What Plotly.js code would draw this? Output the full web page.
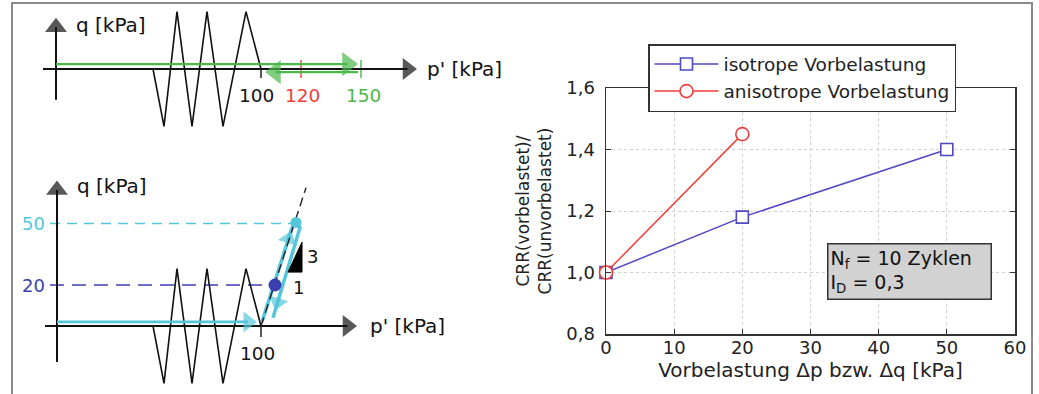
<!DOCTYPE html>
<html><head><meta charset="utf-8">
<script src="https://cdn.plot.ly/plotly-3.0.1.min.js"></script>
<style>html,body{margin:0;padding:0;background:#fff}#chart{width:1039px;height:394px}</style>
</head><body><div id="chart"></div>
<script>
// ---- main chart data ----
const preloadIso = [0, 20, 50];
const crrIso = [1.0, 1.18, 1.40];
const preloadAniso = [0, 20];
const crrAniso = [1.0, 1.45];
const seriesNames = ['isotrope Vorbelastung', 'anisotrope Vorbelastung'];
const xTickVals = [0, 10, 20, 30, 40, 50, 60];
const yTickVals = [0.8, 1.0, 1.2, 1.4, 1.6];
const infoText = 'N<sub>f</sub> = 10 Zyklen<br>I<sub>D</sub> = 0,3';

// ---- schematic data (p' [kPa], q [kPa]) ----
const cycP = [46, 51.5, 58, 65.5, 73, 81, 92.5, 100];
const cycQ = [0, -28, 28, -28, 28, -28, 28, 0];
const topMarks = [100, 120, 150];
const topMarkLabels = ['100', '120', '150'];
const levelQ = [50, 20];
const levelLabels = ['50', '20'];
const levelEndP = [120.5, 111];
const slopeP = [100, 122.5];
const slopeQ = [0, 67.5];
const loopP = [100.5, 116.5, 119.5, 106];
const loopQ = [2, 51, 48, 4];
const pointP = [107];
const pointQ = [20];
const triP = [113.5, 120.5, 120.5, 113.5];
const triQ = [26.3, 26.3, 40.9, 26.3];
// arrows: [tail p, tail q, tip p, tip q]
const topAxisQ = [-2.5, -15, -2.5, 25];
const topAxisP = [-9, 0, 178, 0];
const greenOut = [-2.5, 2.4, 148.5, 2.4];
const greenBack = [148.5, -1.5, 102, -1.5];
const botAxisQ = [-2, -17.6, -2, 71];
const botAxisP = [-8, 0, 148, 0];
const cyanIn = [-2, 2, 98, 2];
const cyanUp = [112.0, 37, 115.0, 46.5];
const cyanDown = [110.0, 17, 107.0, 7.5];

const W = 1039, H = 394;
const F = 'DejaVu Sans, sans-serif';
const BLUE = '#5148c4', RED = '#ef3f3a', GREEN = '#4cb848', CYAN = '#55c6da', DBLUE = '#3b3fb0';
const px = v => v / W, py = v => 1 - v / H;
const SX = 2, SY = 2.05; // px per kPa in the schematics

function line(xa, ya, x, y, color, width, dash) {
  return {x: x, y: y, xaxis: xa, yaxis: ya, mode: 'lines', line: {color: color, width: width, dash: dash || 'solid'},
          showlegend: false, hoverinfo: 'skip'};
}
function arrowTrace(xa, ya, a, color, width, size) {
  const dx = (a[2] - a[0]) * SX, dy = (a[3] - a[1]) * SY, L = Math.hypot(dx, dy);
  const back = size / 2;
  const cx = a[2] - dx / L * back / SX, cy = a[3] - dy / L * back / SY;
  return {x: [a[0], cx], y: [a[1], cy], xaxis: xa, yaxis: ya, mode: 'lines+markers',
          line: {color: color, width: width},
          marker: {symbol: 'triangle-up', size: [0, size], angleref: 'previous', color: color, line: {width: 0}},
          showlegend: false, hoverinfo: 'skip', cliponaxis: false};
}

const traces = [
  {x: preloadIso, y: crrIso, name: seriesNames[0], mode: 'lines+markers', xaxis: 'x', yaxis: 'y',
   line: {color: BLUE, width: 1.5}, marker: {symbol: 'square', size: 12, color: '#fff', line: {color: BLUE, width: 1.6}}, cliponaxis: false},
  {x: preloadAniso, y: crrAniso, name: seriesNames[1], mode: 'lines+markers', xaxis: 'x', yaxis: 'y',
   line: {color: RED, width: 1.5}, marker: {symbol: 'circle', size: 13, color: '#fff', line: {color: RED, width: 1.6}}, cliponaxis: false},
  // top schematic
  line('x2', 'y2', cycP, cycQ, '#111', 1.6),
  line('x2', 'y2', [topMarks[0], topMarks[0]], [0, -4.4], '#111', 1.4),
  line('x2', 'y2', [topMarks[1], topMarks[1]], [4.4, -4.4], RED, 1.4),
  line('x2', 'y2', [topMarks[2], topMarks[2]], [4.4, -4.4], GREEN, 1.4),
  arrowTrace('x2', 'y2', topAxisQ, '#111', 2, 19),
  arrowTrace('x2', 'y2', topAxisP, '#111', 2, 19),
  arrowTrace('x2', 'y2', greenOut, GREEN, 2.4, 21),
  arrowTrace('x2', 'y2', greenBack, GREEN, 2.4, 21),
  // bottom schematic
  line('x3', 'y3', [-5.5, levelEndP[0]], [levelQ[0], levelQ[0]], CYAN, 1.3, '10px,7px'),
  line('x3', 'y3', [-5.5, levelEndP[1]], [levelQ[1], levelQ[1]], DBLUE, 1.3, '14px,8px'),
  line('x3', 'y3', cycP, cycQ, '#111', 1.6),
  line('x3', 'y3', [topMarks[0], topMarks[0]], [0, -5.4], '#111', 1.4),
  arrowTrace('x3', 'y3', botAxisQ, '#111', 2, 19),
  arrowTrace('x3', 'y3', botAxisP, '#111', 2, 19),
  line('x3', 'y3', loopP, loopQ, CYAN, 3.5),
  arrowTrace('x3', 'y3', cyanIn, CYAN, 2.8, 18),
  arrowTrace('x3', 'y3', cyanUp, CYAN, 2.8, 17),
  arrowTrace('x3', 'y3', cyanDown, CYAN, 2.8, 17),
  line('x3', 'y3', slopeP, slopeQ, '#222', 1.4, '9px,5px'),
  {x: [loopP[1] + 1], y: [loopQ[1] - 0.5], xaxis: 'x3', yaxis: 'y3', mode: 'markers', marker: {color: CYAN, size: 11}, showlegend: false, hoverinfo: 'skip'},
  {x: pointP, y: pointQ, xaxis: 'x3', yaxis: 'y3', mode: 'markers', marker: {color: DBLUE, size: 13}, showlegend: false, hoverinfo: 'skip'},
  {x: triP, y: triQ, xaxis: 'x3', yaxis: 'y3', mode: 'lines', fill: 'toself', fillcolor: '#000', line: {color: '#000', width: 1}, showlegend: false, hoverinfo: 'skip'}
];

function label(xr, yr, x, y, text, color, size, xa, extra) {
  return Object.assign({xref: xr, yref: yr, x: x, y: y, text: text, showarrow: false, xanchor: xa || 'center', yanchor: 'middle',
          font: {family: F, size: size, color: color}}, extra || {});
}

const annotations = [
  label('x2', 'y2', 6.5, 21.5, 'q [kPa]', '#111', 20, 'left'),
  label('x2', 'y2', 182, 0, "p' [kPa]", '#111', 20, 'left'),
  label('x2', 'y2', topMarks[0], -12.7, topMarkLabels[0], '#111', 18.5, 'center', {xshift: -5}),
  label('x2', 'y2', topMarks[1], -12.7, topMarkLabels[1], RED, 18.5, 'center', {xshift: 1}),
  label('x2', 'y2', topMarks[2], -12.7, topMarkLabels[2], GREEN, 18.5, 'center', {xshift: 2}),
  label('x3', 'y3', 7, 68.3, 'q [kPa]', '#111', 20, 'left'),
  label('x3', 'y3', 153.5, 0, "p' [kPa]", '#111', 20, 'left'),
  label('x3', 'y3', topMarks[0], -13.3, topMarkLabels[0], '#111', 18.5, 'center', {xshift: -4}),
  label('x3', 'y3', -7, levelQ[0], levelLabels[0], CYAN, 18, 'right'),
  label('x3', 'y3', -7, levelQ[1], levelLabels[1], DBLUE, 18, 'right'),
  label('x3', 'y3', 125.5, 33.7, '3', '#111', 18, 'center'),
  label('x3', 'y3', 118.5, 19, '1', '#111', 18, 'center'),
  {xref: 'paper', yref: 'paper', x: px(827), y: py(243), xanchor: 'left', yanchor: 'top', text: infoText, showarrow: false,
   align: 'left', width: 158, height: 50, borderpad: 2, bgcolor: '#d2d2d2', bordercolor: '#333', borderwidth: 1.5,
   font: {family: F, size: 19, color: '#111'}}
];

const hidden = {visible: true, fixedrange: true, showgrid: false, zeroline: false, showline: false,
                showticklabels: false, ticks: ''};
const layout = {
  width: W, height: H,
  margin: {l: 0, r: 0, t: 0, b: 0},
  paper_bgcolor: '#fff', plot_bgcolor: 'rgba(0,0,0,0)',
  separators: ',.',
  showlegend: true,
  legend: {x: px(648), y: py(44), xanchor: 'left', yanchor: 'top', bgcolor: '#fff', bordercolor: '#333', borderwidth: 1.5,
           font: {family: F, size: 18.5, color: '#222'}, itemwidth: 64, tracegroupgap: 0},
  xaxis: {domain: [px(606), px(1015)], range: [0, 60], tickvals: xTickVals, tickformat: 'd', ticks: 'inside', ticklen: 5,
          tickcolor: '#333', showline: true, linecolor: '#333', linewidth: 1.5, mirror: 'ticks', showgrid: true,
          gridcolor: '#d0d0d0', griddash: 'dot', zeroline: false, fixedrange: true, automargin: false,
          ticklabelstandoff: -3,
          tickfont: {family: F, size: 18, color: '#222'},
          title: {text: 'Vorbelastung Δp bzw. Δq [kPa]', font: {family: F, size: 20, color: '#222'}, standoff: 3}},
  yaxis: {domain: [1 - 334 / H, 1 - 88 / H], range: [0.8, 1.6], tickvals: yTickVals, tickformat: '.1f', ticks: 'inside', ticklen: 5,
          tickcolor: '#333', showline: true, linecolor: '#333', linewidth: 1.5, mirror: 'ticks', showgrid: true,
          gridcolor: '#d0d0d0', griddash: 'dot', zeroline: false, fixedrange: true, automargin: false,
          ticklabelstandoff: 6,
          tickfont: {family: F, size: 18, color: '#222'},
          title: {text: 'CRR(vorbelastet)/<br>CRR(unvorbelastet)', font: {family: F, size: 17, color: '#222'}, standoff: 10}},
  xaxis2: Object.assign({domain: [0, px(520)], range: [-30.5, 229.5], anchor: 'y2'}, hidden),
  yaxis2: Object.assign({domain: [py(150), 1], range: [-39.512, 33.659], anchor: 'x2'}, hidden),
  xaxis3: Object.assign({domain: [0, px(520)], range: [-30.5, 229.5], anchor: 'y3'}, hidden),
  yaxis3: Object.assign({domain: [0, py(160)], range: [-33.171, 80.976], anchor: 'x3'}, hidden),
  shapes: [
    {type: 'rect', xref: 'paper', yref: 'paper', x0: px(12), x1: px(1032), y0: -0.1, y1: py(3),
     line: {color: '#8a8a8a', width: 2}, layer: 'below'}
  ],
  annotations: annotations
};

Plotly.newPlot('chart', traces, layout, {displayModeBar: false, staticPlot: true});
</script></body></html>
